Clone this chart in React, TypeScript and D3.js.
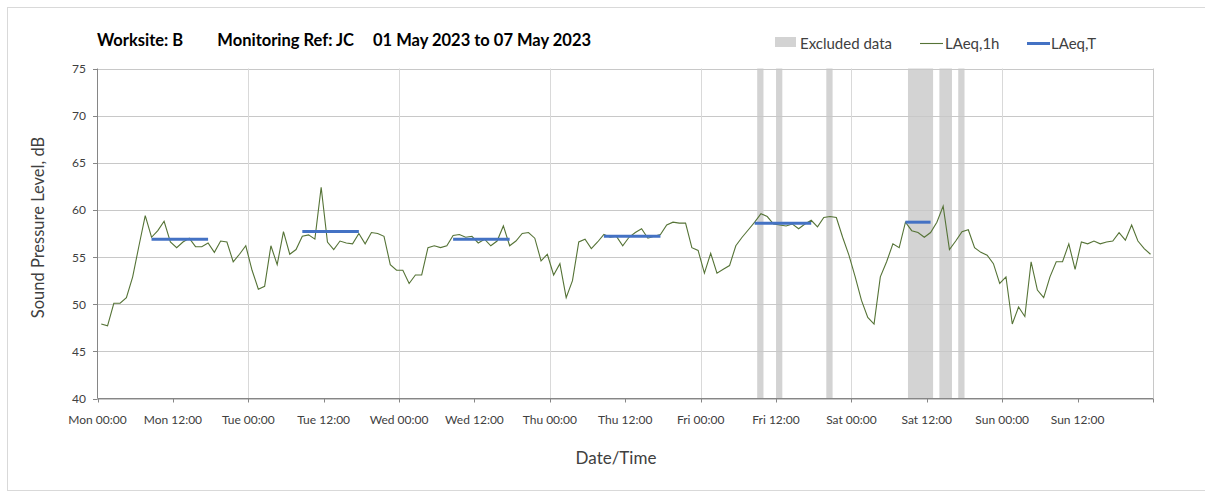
import React from 'react';
import * as d3 from 'd3';

const DAY_LABELS = ['Mon', 'Tue', 'Wed', 'Thu', 'Fri', 'Sat', 'Sun'];
const Y_TICKS = [40, 45, 50, 55, 60, 65, 70, 75];

// Hourly LAeq,1h values, Mon 00:00 .. Sun 23:00
const LAEQ_1H = [
  47.9, 47.7, 50.1, 50.1, 50.7, 52.9, 56.2, 59.4, 57.1, 57.8, 58.8, 56.6, 56.0, 56.6, 57.0, 56.1, 56.1, 56.5, 55.5, 56.7, 56.6, 54.5, 55.3, 56.2,
  53.6, 51.6, 51.9, 56.2, 54.2, 57.7, 55.3, 55.8, 57.2, 57.35, 56.9, 62.4, 56.6, 55.8, 56.7, 56.5, 56.4, 57.5, 56.4, 57.6, 57.5, 57.2, 54.2, 53.6,
  53.6, 52.2, 53.1, 53.1, 56.0, 56.2, 56.0, 56.2, 57.3, 57.4, 57.1, 57.2, 56.5, 56.9, 56.2, 56.7, 58.3, 56.2, 56.7, 57.5, 57.6, 57.0, 54.6, 55.3,
  53.1, 54.3, 50.7, 52.5, 56.6, 56.9, 55.9, 56.6, 57.4, 57.1, 57.2, 56.2, 57.1, 57.6, 58.0, 57.0, 57.2, 57.4, 58.4, 58.7, 58.6, 58.6, 56.0, 55.7,
  53.3, 55.4, 53.3, 53.7, 54.1, 56.2, 57.1, 57.9, 58.7, 59.6, 59.3, 58.5, 58.4, 58.3, 58.5, 58.0, 58.5, 58.9, 58.2, 59.2, 59.3, 59.2, 57.1, 55.2,
  52.9, 50.4, 48.6, 47.9, 52.9, 54.5, 56.4, 56.0, 58.7, 57.8, 57.6, 57.1, 57.6, 58.7, 60.4, 55.8, 56.7, 57.7, 57.9, 56.0, 55.5, 55.2, 54.3, 52.2,
  52.9, 47.9, 49.7, 48.7, 54.5, 51.5, 50.7, 52.9, 54.5, 54.5, 56.4, 53.7, 56.6, 56.4, 56.7, 56.4, 56.6, 56.7, 57.6, 56.8, 58.4, 56.7, 55.9, 55.3,
];

// LAeq,T periods (hour indices of first and last hourly sample) and values
const LAEQ_T_START = [8, 32, 56, 80, 104, 128];
const LAEQ_T_END = [17, 41, 65, 89, 113, 132];
const LAEQ_T_VALUE = [56.9, 57.7, 56.9, 57.2, 58.6, 58.7];

// Excluded data periods (hours from Mon 00:00)
const EXCL_START = [105, 108, 116, 129, 134, 137];
const EXCL_END = [106, 109, 117, 133, 136, 138];

const SAMPLE_OFFSET = 0.6; // hours

const W = 1205;
const H = 492;
const FONT = 'Lato, "Open Sans", sans-serif';

export default function App() {
  const x = d3.scaleLinear().domain([0, 168]).range([97.5, 1153]);
  const y = d3.scaleLinear().domain([40, 75]).range([398.5, 68.5]);

  const line = d3
    .line<number>()
    .x((_, i) => x(i + SAMPLE_OFFSET))
    .y((d) => y(d));

  const xTicks = d3.range(0, 168, 12);
  const dayLines = d3.range(24, 168, 24);
  const textColor = '#404040';

  return (
    <svg
      width={W}
      height={H}
      style={{ position: 'absolute', left: 0, top: 0, display: 'block', background: '#fff' }}
      fontFamily={FONT}
    >
      <rect x={7.5} y={7.5} width={W + 10} height={H - 9} fill="#fff" stroke="#d9d9d9" />

      {/* excluded bands */}
      {EXCL_START.map((s, i) => (
        <rect key={'ex' + i} x={x(s)} y={y(75)} width={x(EXCL_END[i]) - x(s)} height={y(40) - y(75)} fill="#d3d3d3" />
      ))}

      {/* horizontal grid */}
      {Y_TICKS.map((t) => (
        <line key={'hg' + t} x1={x(0)} x2={x(168)} y1={Math.round(y(t)) + 0.5} y2={Math.round(y(t)) + 0.5} stroke="#c8c8c8" />
      ))}
      {/* vertical day grid */}
      {dayLines.map((h) => (
        <line key={'vg' + h} x1={Math.round(x(h)) + 0.5} x2={Math.round(x(h)) + 0.5} y1={y(75)} y2={y(40)} stroke="#d9d9d9" />
      ))}
      <line x1={Math.round(x(168)) + 0.5} x2={Math.round(x(168)) + 0.5} y1={y(75)} y2={y(40)} stroke="#c8c8c8" />

      {/* axes */}
      <line x1={97.5} x2={97.5} y1={y(75)} y2={y(40)} stroke="#868686" />
      {Y_TICKS.map((t) => (
        <g key={'yt' + t}>
          <line x1={93} x2={97.5} y1={Math.round(y(t)) + 0.5} y2={Math.round(y(t)) + 0.5} stroke="#868686" />
          <text x={86} y={y(t)} textAnchor="end" dominantBaseline="central" fontSize={12} fill={textColor}>
            {t}
          </text>
        </g>
      ))}
      <line x1={x(0)} x2={x(168)} y1={398.5} y2={398.5} stroke="#868686" />
      {xTicks.concat([168]).map((h) => (
        <line key={'xt' + h} x1={Math.round(x(h)) + 0.5} x2={Math.round(x(h)) + 0.5} y1={398.5} y2={402.5} stroke="#868686" />
      ))}
      {xTicks.map((h) => (
        <text key={'xl' + h} x={x(h)} y={419} textAnchor="middle" dominantBaseline="central" fontSize={12} fill={textColor}>
          {DAY_LABELS[Math.floor(h / 24)] + ' ' + (h % 24 === 0 ? '00:00' : '12:00')}
        </text>
      ))}

      {/* data */}
      <path d={line(LAEQ_1H) || ''} fill="none" stroke="#557336" strokeWidth={1.1} />
      {LAEQ_T_START.map((s, i) => (
        <line
          key={'lt' + i}
          x1={x(s + SAMPLE_OFFSET)}
          x2={x(LAEQ_T_END[i] + SAMPLE_OFFSET)}
          y1={y(LAEQ_T_VALUE[i])}
          y2={y(LAEQ_T_VALUE[i])}
          stroke="#4472c4"
          strokeWidth={3}
        />
      ))}

      {/* axis titles */}
      <text x={616} y={457} textAnchor="middle" dominantBaseline="central" fontSize={17} fill={textColor}>
        Date/Time
      </text>
      <text
        transform={`translate(38, ${(y(40) + y(75)) / 2 - 6}) rotate(-90)`}
        textAnchor="middle"
        dominantBaseline="central"
        fontSize={16.5}
        fill={textColor}
      >
        Sound Pressure Level, dB
      </text>

      {/* title */}
      <g fontSize={16.5} fontWeight={700} fill="#000">
        <text x={97} y={40} dominantBaseline="central">Worksite: B</text>
        <text x={354} y={40} textAnchor="end" dominantBaseline="central">Monitoring Ref: JC</text>
        <text x={373} y={40} dominantBaseline="central">01 May 2023 to 07 May 2023</text>
      </g>

      {/* legend */}
      <g fontSize={15} fill={textColor}>
        <rect x={775} y={37} width={21} height={10} fill="#d3d3d3" />
        <text x={800} y={43} dominantBaseline="central">Excluded data</text>
        <line x1={920} x2={943} y1={43.5} y2={43.5} stroke="#557336" strokeWidth={1.1} />
        <text x={945} y={43} dominantBaseline="central">LAeq,1h</text>
        <line x1={1027} x2={1050} y1={43.5} y2={43.5} stroke="#4472c4" strokeWidth={3} />
        <text x={1051} y={43} dominantBaseline="central">LAeq,T</text>
      </g>
    </svg>
  );
}
